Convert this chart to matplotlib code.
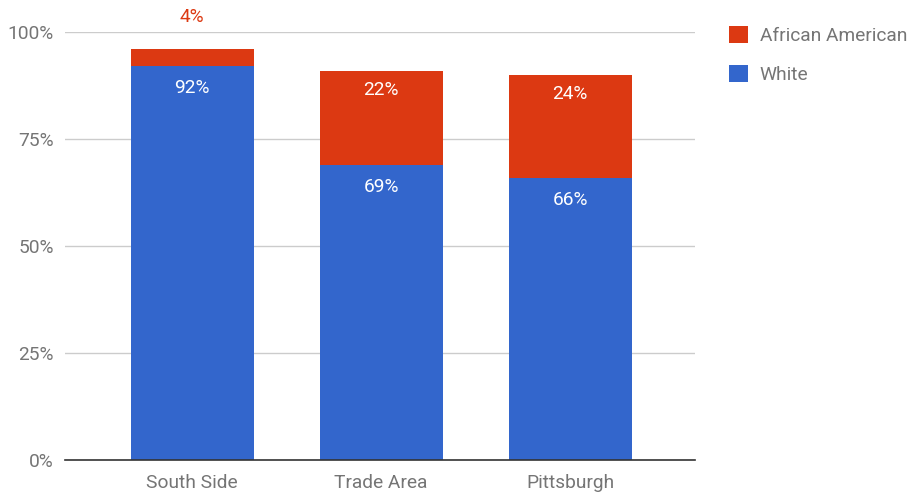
import matplotlib.pyplot as plt
from matplotlib.ticker import PercentFormatter

plt.rcParams["font.family"] = ["Roboto", "DejaVu Sans"]

categories = ["South Side", "Trade Area", "Pittsburgh"]
white = [92, 69, 66]
african_american = [4, 22, 24]

BLUE = "#3366cc"
RED = "#dc3912"
GRAY = "#757575"
FS = 13.8

fig = plt.figure(figsize=(9.1, 4.95), dpi=100)
ax = fig.add_axes([65 / 910, 35 / 495, 630 / 910, 428 / 495])

x = list(range(len(categories)))
width = 0.65
ax.bar(x, white, width, color=BLUE, label="White", zorder=3)
ax.bar(x, african_american, width, bottom=white, color=RED,
       label="African American", zorder=3)

# value labels
for i in x:
    ax.annotate(f"{white[i]}%", (i, white[i]), xytext=(0, -16),
                textcoords="offset points", ha="center", va="center",
                color="white", fontsize=FS, zorder=4)
    top = white[i] + african_american[i]
    if african_american[i] < 8:
        ax.annotate(f"{african_american[i]}%", (i, top), xytext=(0, 23),
                    textcoords="offset points", ha="center", va="center",
                    color=RED, fontsize=FS, annotation_clip=False)
    else:
        ax.annotate(f"{african_american[i]}%", (i, top), xytext=(0, -14),
                    textcoords="offset points", ha="center", va="center",
                    color="white", fontsize=FS, zorder=4)

ax.set_xlim(-0.672, 2.66)
ax.set_ylim(0, 100)
ax.set_yticks([0, 25, 50, 75, 100])
ax.yaxis.set_major_formatter(PercentFormatter(decimals=0))
ax.set_xticks(x)
ax.set_xticklabels(categories)
ax.tick_params(axis="both", length=0, labelsize=FS, labelcolor=GRAY)
ax.tick_params(axis="x", pad=10)
ax.tick_params(axis="y", pad=8)

ax.grid(axis="y", color="#cccccc", linewidth=1, zorder=0)
for s in ["top", "right", "left"]:
    ax.spines[s].set_visible(False)
ax.spines["bottom"].set_color("#333333")
ax.spines["bottom"].set_linewidth(1.2)
ax.spines["bottom"].set_zorder(5)

handles, labels = ax.get_legend_handles_labels()
leg = fig.legend(handles[::-1], labels[::-1], loc="upper left",
                 bbox_to_anchor=(712 / 910, 1 - 9 / 495), frameon=False,
                 fontsize=FS, handlelength=1.0, handleheight=1.0,
                 handletextpad=0.6, labelspacing=1.0)
for t in leg.get_texts():
    t.set_color(GRAY)

fig.savefig("out.png", dpi=100)
